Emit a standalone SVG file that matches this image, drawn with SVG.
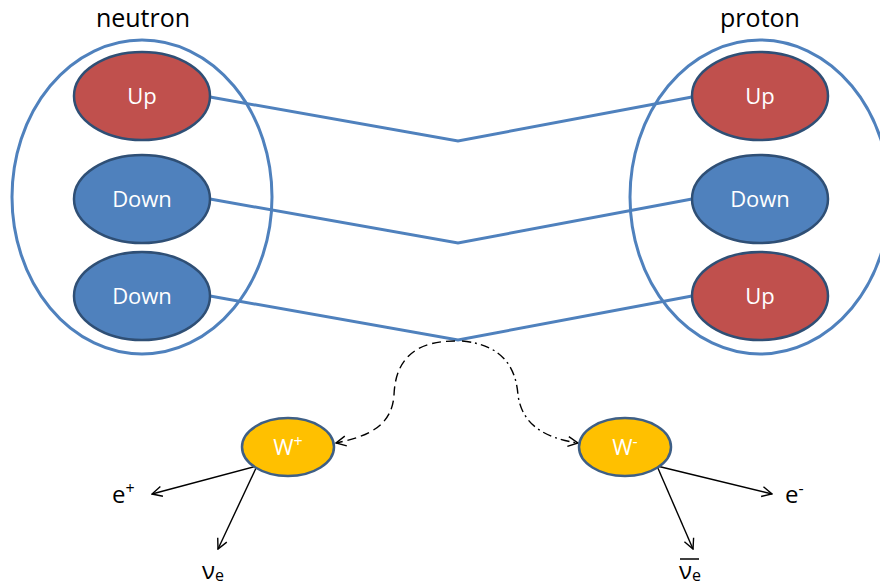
<svg xmlns="http://www.w3.org/2000/svg" width="880" height="586" viewBox="0 0 880 586">
<style>
.hadron{fill:none;stroke:#4f81bd;stroke-width:3}
.up{fill:#c0504d;stroke:#2f4f75;stroke-width:2.5}
.down{fill:#4f81bd;stroke:#2f4f75;stroke-width:2.5}
.w{fill:#ffc000;stroke:#3e5f86;stroke-width:2.5}
.ql{fill:#fff;font-family:"Open Sans","DejaVu Sans",sans-serif;font-size:22px;text-anchor:middle}
.title{fill:#000;font-family:"Open Sans","DejaVu Sans",sans-serif;font-size:25px;text-anchor:middle}
.lbl{fill:#000;font-family:"Open Sans","DejaVu Sans",sans-serif;font-size:24px}
.quark{fill:none;stroke:#4f81bd;stroke-width:3}
.arr{fill:none;stroke:#000;stroke-width:1.4;marker-end:url(#open)}
</style>
<defs>
<marker id="open" viewBox="0 0 12 12" refX="11" refY="6" markerWidth="12" markerHeight="12" markerUnits="userSpaceOnUse" orient="auto">
<path d="M1 1 L11 6 L1 11" fill="none" stroke="#000" stroke-width="1.4"/>
</marker>
</defs>
<rect width="880" height="586" fill="#fff"/>
<g id="neutron">
<text class="title" x="143" y="27">neutron</text>
<ellipse class="hadron" cx="142" cy="197" rx="130" ry="157"/>
</g>
<g id="proton">
<text class="title" x="760" y="27">proton</text>
<ellipse class="hadron" cx="760" cy="197" rx="130" ry="157"/>
</g>
<g id="connectors">
<polyline class="quark" points="210,97 458,141 692,97"/>
<polyline class="quark" points="210,199 458,243 692,199"/>
<polyline class="quark" points="210,296 458,340 692,296"/>
<path class="arr" stroke-dasharray="9 5" d="M455 341 C405 341 395 370 394 395 C392 425 370 436 336 443"/>
<path class="arr" stroke-dasharray="9 4 2 4" d="M462 341 C505 345 516 370 518 395 C522 425 545 438 578 443"/>
<line class="arr" x1="257" y1="466" x2="152" y2="494"/>
<line class="arr" x1="257" y1="466" x2="218" y2="549"/>
<line class="arr" x1="657" y1="466" x2="772" y2="494"/>
<line class="arr" x1="657" y1="466" x2="693" y2="549"/>
</g>
<g id="n-up"><ellipse class="up" cx="142" cy="96" rx="68" ry="44"/><text class="ql" x="142" y="104">Up</text></g>
<g id="n-down1"><ellipse class="down" cx="142" cy="199" rx="68" ry="44"/><text class="ql" x="142" y="207">Down</text></g>
<g id="n-down2"><ellipse class="down" cx="142" cy="296" rx="68" ry="44"/><text class="ql" x="142" y="304">Down</text></g>
<g id="p-up1"><ellipse class="up" cx="760" cy="96" rx="68" ry="44"/><text class="ql" x="760" y="104">Up</text></g>
<g id="p-down"><ellipse class="down" cx="760" cy="199" rx="68" ry="44"/><text class="ql" x="760" y="207">Down</text></g>
<g id="p-up2"><ellipse class="up" cx="760" cy="296" rx="68" ry="44"/><text class="ql" x="760" y="304">Up</text></g>
<g id="w-plus"><ellipse class="w" cx="288" cy="447" rx="46" ry="29"/><text class="ql" x="288" y="455">W<tspan font-size="16" dy="-8">+</tspan></text></g>
<g id="w-minus"><ellipse class="w" cx="625" cy="447" rx="46" ry="29"/><text class="ql" x="625" y="455">W<tspan font-size="16" dy="-8">-</tspan></text></g>
<g id="e-plus"><text class="lbl" x="112" y="503">e<tspan font-size="16" dy="-9">+</tspan></text></g>
<g id="nu-e"><text class="lbl" x="202" y="579">ν<tspan font-size="16" dy="2">e</tspan></text></g>
<g id="e-minus"><text class="lbl" x="785" y="503">e<tspan font-size="16" dy="-9">-</tspan></text></g>
<g id="nu-e-bar"><line x1="680" y1="559" x2="699" y2="559" stroke="#000" stroke-width="1.5"/><text class="lbl" x="679" y="579">ν<tspan font-size="16" dy="2">e</tspan></text></g>
</svg>
